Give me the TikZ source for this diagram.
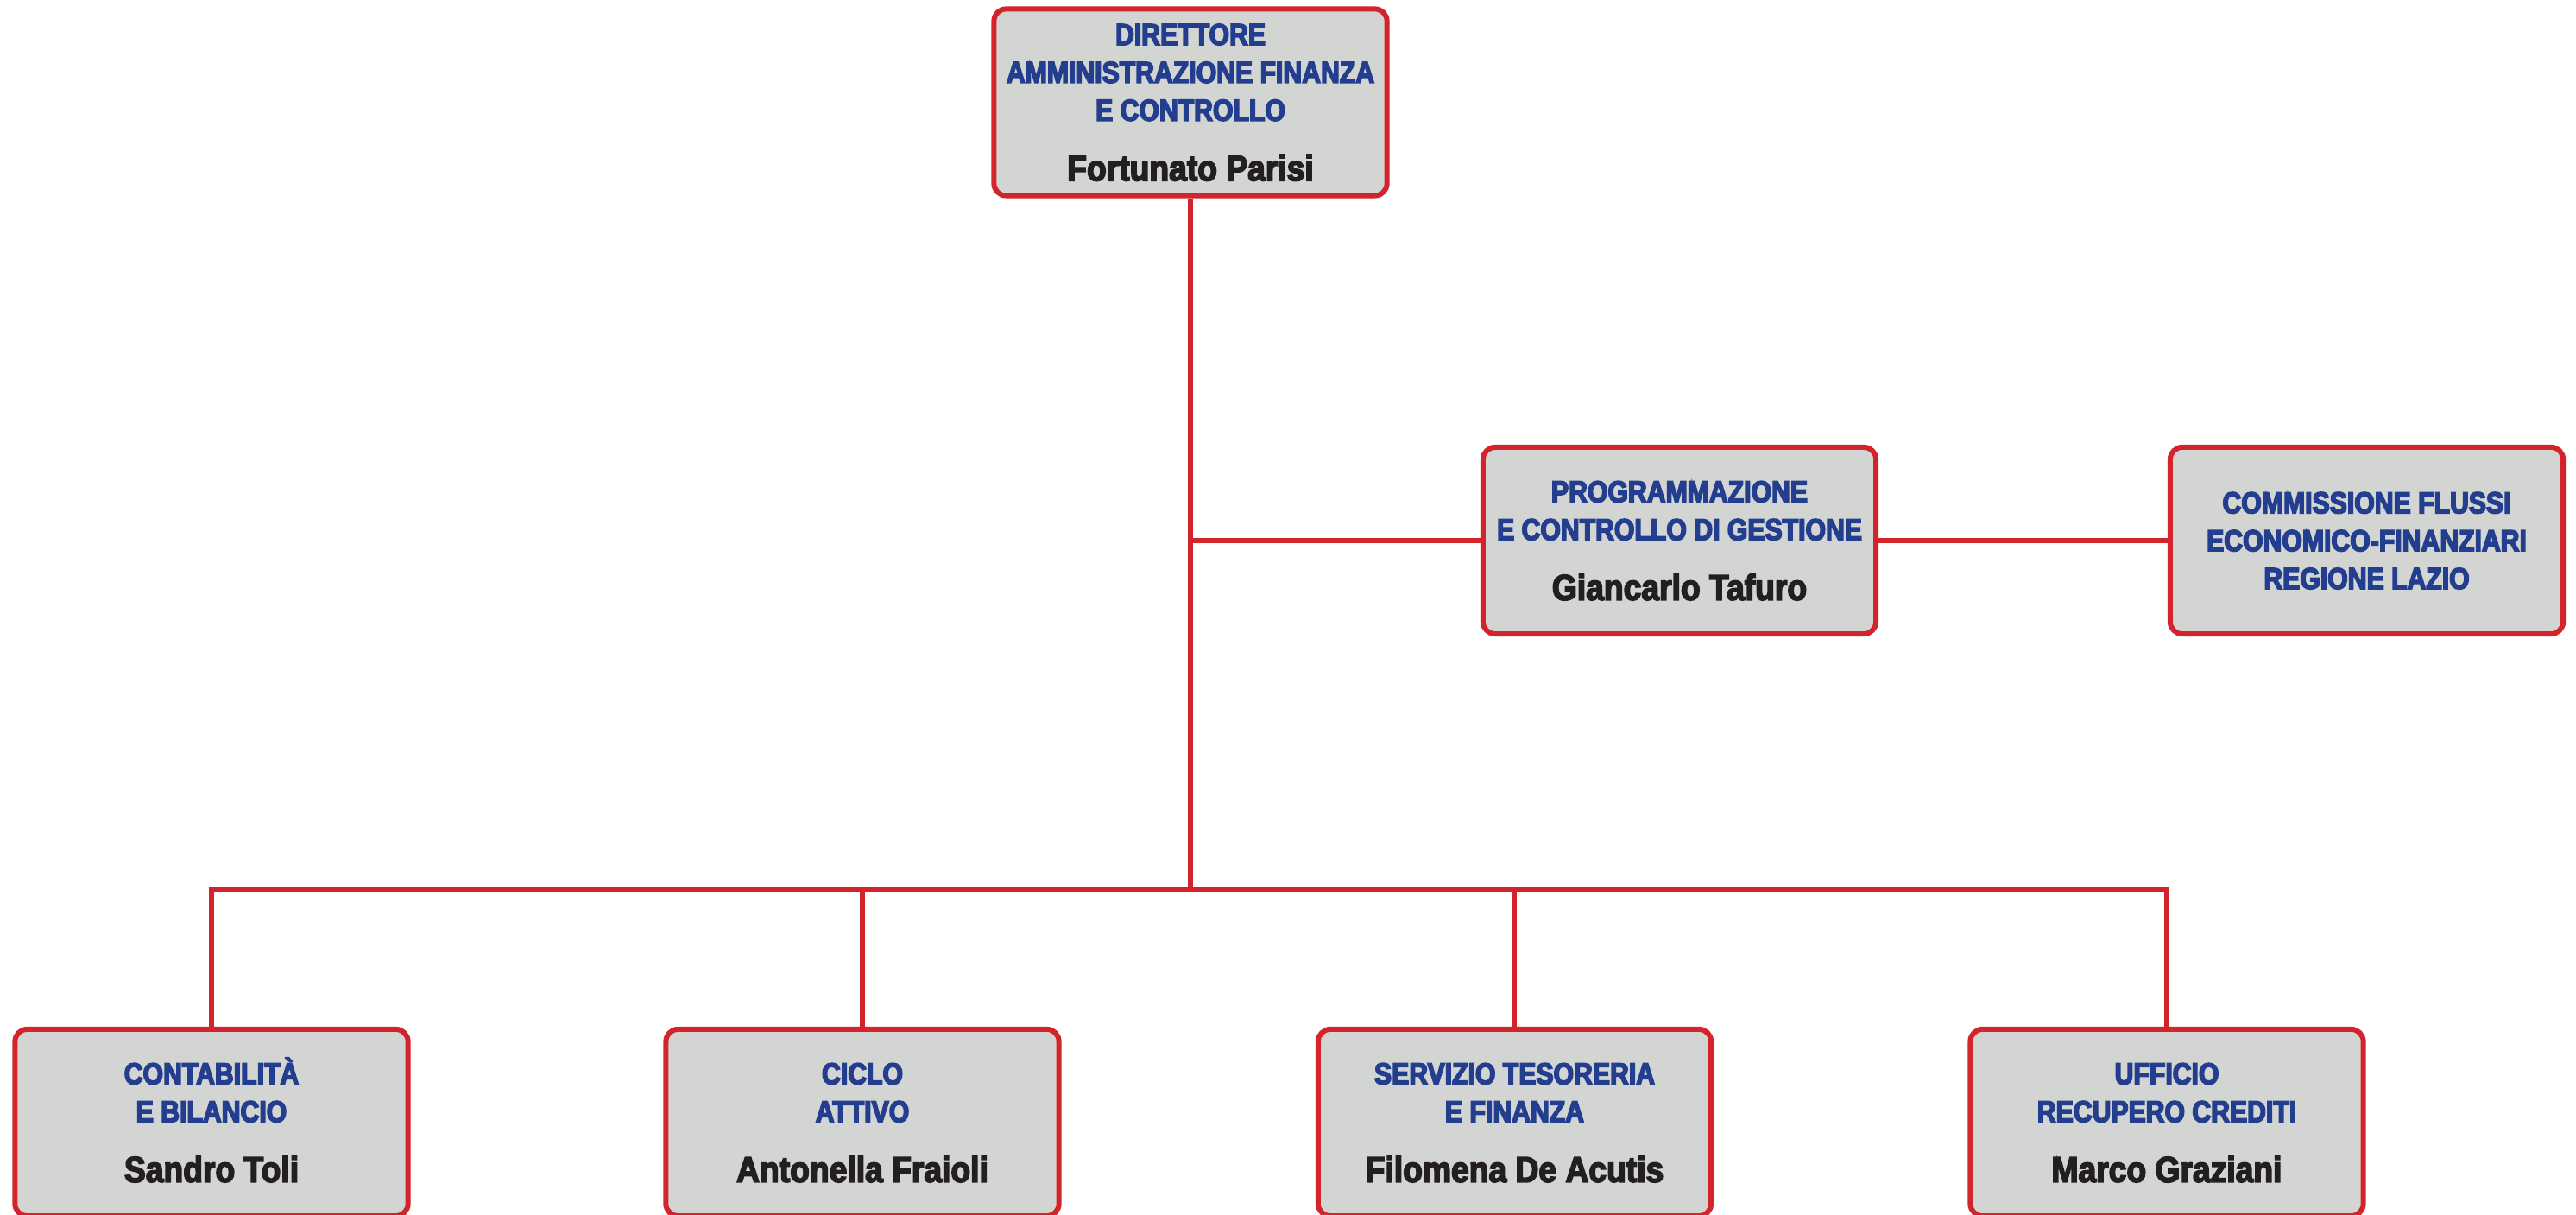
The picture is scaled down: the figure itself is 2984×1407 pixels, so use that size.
\documentclass[tikz,border=0pt]{standalone}
\usepackage{fontspec}
\newfontfamily\heavy{Liberation Sans Bold}[FakeStretch=0.865]
\newfontfamily\heavyname{Liberation Sans Bold}[FakeStretch=0.89]
\definecolor{tblue}{RGB}{35,62,143}
\definecolor{tred}{RGB}{211,35,43}
\definecolor{tgray}{RGB}{211,213,210}
\definecolor{tblack}{RGB}{35,31,32}
\newcommand{\hv}[1]{\special{pdf:literal direct 2 Tr 0.45 w}#1\special{pdf:literal direct 0 Tr}}
\newcommand{\nm}[1]{\heavyname\fontsize{11.9}{12.47}\selectfont\color{tblack}\hv{#1}}
\tikzset{
  orgbox/.style={draw=tred, fill=tgray, line width=1.7pt, rounded corners=0.14cm,
    minimum width=4.55cm, minimum height=2.16cm, inner sep=0pt, align=center,
    text depth=0pt,
    font=\heavy\fontsize{9.93}{12.47}\selectfont\color{tblue}},
  link/.style={draw=tred, line width=1.6pt}
}
\begin{document}
\begin{tikzpicture}[x=0.01cm, y=-0.01cm]
\useasboundingbox (0,0) rectangle (2984,1407);
\node[orgbox] (top) at (1379,118.5) {\hv{DIRETTORE}\\\hv{AMMINISTRAZIONE FINANZA}\\\hv{E CONTROLLO}\\[7.3pt]\nm{Fortunato Parisi}};
\node[orgbox] (mid) at (1945.5,626) {\hv{PROGRAMMAZIONE}\\\hv{E CONTROLLO DI GESTIONE}\\[7.3pt]\nm{Giancarlo Tafuro}};
\node[orgbox] (rgt) at (2741.5,626) {\hv{COMMISSIONE FLUSSI}\\\hv{ECONOMICO-FINANZIARI}\\\hv{REGIONE LAZIO}};
\node[orgbox] (b1) at (245,1300) {\hv{CONTABILIT\smash{À}}\\\hv{E BILANCIO}\\[7.3pt]\nm{Sandro Toli}};
\node[orgbox] (b2) at (999,1300) {\hv{CICLO}\\\hv{ATTIVO}\\[7.3pt]\nm{Antonella Fraioli}};
\node[orgbox] (b3) at (1754.5,1300) {\hv{SERVIZIO TESORERIA}\\\hv{E FINANZA}\\[7.3pt]\nm{Filomena De Acutis}};
\node[orgbox] (b4) at (2510,1300) {\hv{UFFICIO}\\\hv{RECUPERO CREDITI}\\[7.3pt]\nm{Marco Graziani}};
\coordinate (bus) at (1378,1030);
\draw[link] (top.south) -- (top.south |- bus);
\draw[link] (mid.west) -- (mid.west -| top.south);
\draw[link] (mid.east) -- (rgt.west);
\draw[link] (b1.north) -- (b1.north |- bus) -- (b4.north |- bus) -- (b4.north);
\draw[link] (b2.north) -- (b2.north |- bus);
\draw[link] (b3.north) -- (b3.north |- bus);
\end{tikzpicture}
\end{document}
